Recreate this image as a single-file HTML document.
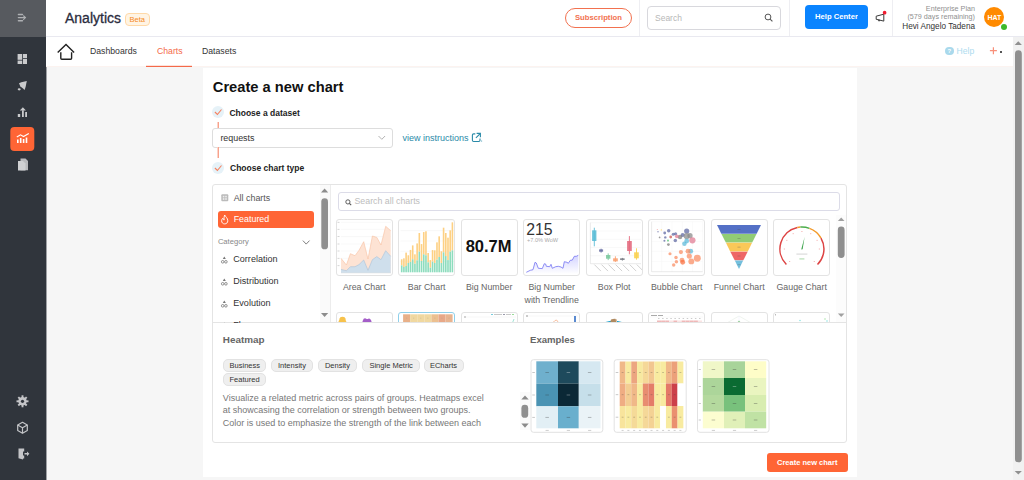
<!DOCTYPE html>
<html><head><meta charset="utf-8">
<style>
*{box-sizing:border-box;margin:0;padding:0}
html,body{width:1024px;height:480px;overflow:hidden;background:#f6f6f6;font-family:"Liberation Sans",sans-serif;color:#333}
.a{position:absolute}
.t{position:absolute;white-space:nowrap;line-height:1}
svg{position:absolute;overflow:visible}
#side{left:0;top:0;width:46px;height:480px;background:#30353c}
#sidetop{left:0;top:0;width:46px;height:37px;background:#575a5f}
#hdr{left:46px;top:0;width:978px;height:37px;background:#fff;border-bottom:1px solid #e9e9f0}
#nav{left:46px;top:37px;width:967px;height:30px;background:#fff}
#card{left:203px;top:68px;width:654px;height:409px;background:#fff}
#sb{left:1013px;top:37px;width:11px;height:443px;background:#f1f1f1}
.cc{position:absolute;top:219px;width:57px;height:57px;border:1px solid #e3e3e3;border-radius:3px;background:#fff;overflow:hidden}
.cc2{position:absolute;top:312px;width:57px;height:57px;border:1px solid #e3e3e3;border-radius:3px;background:#fff;overflow:hidden}
.cl{position:absolute;top:282px;width:62px;text-align:center;font-size:8.8px;color:#666;line-height:12.5px}
.cat{position:absolute;left:233.3px;font-size:9.05px;color:#333;line-height:1;white-space:nowrap}
.tag{position:absolute;height:13px;border:1px solid #e2e2e2;background:#efefef;border-radius:5px;font-size:7.5px;color:#333;line-height:11px;text-align:center;white-space:nowrap}
.ex{position:absolute;top:359px;width:73px;height:74px;border:1px solid #e4e4e4;border-radius:3px;background:#fff;overflow:hidden}
</style></head><body>
<div class="a" id="side"></div>
<div class="a" id="sidetop"></div>
<div class="a" style="left:46px;top:0;width:1px;height:37px;background:#b3b5b8"></div>
<div class="a" style="left:46px;top:37px;width:1px;height:443px;background:#9fa1a5"></div>
<div class="a" id="hdr"></div>
<div class="a" id="nav"></div>
<div class="a" id="card"></div>
<div class="a" id="sb"></div>

<!-- SIDEBAR ICONS -->
<svg style="left:0;top:0" width="46" height="480">
 <g stroke="#aeb0b3" stroke-width="1.4" stroke-linecap="round" fill="none">
  <line x1="18.4" y1="14.5" x2="22.5" y2="14.5"/><line x1="18.4" y1="17.6" x2="25" y2="17.6"/><line x1="18.4" y1="20.7" x2="22.5" y2="20.7"/>
  <polyline points="23.6,15.8 25.4,17.6 23.6,19.4" stroke-width="1.2"/>
 </g>
 <g fill="#c9cacc">
  <rect x="17.6" y="54" width="4.6" height="5.8"/><rect x="23" y="54" width="4" height="4.2"/>
  <rect x="17.6" y="60.6" width="4.6" height="3.4"/><rect x="23" y="59" width="4" height="5"/>
  <path d="M19 83.3 L21.3 82.2 L26.8 81 L25.7 86.5 L24.6 89.9 L23 88.6 L20.4 86.4 Z"/><ellipse cx="19.2" cy="89.3" rx="1.5" ry="1.1"/>
  <rect x="17.8" y="114" width="2.4" height="3"/><rect x="22" y="110.3" width="1.8" height="6.7"/><rect x="25.2" y="112" width="1.8" height="5"/>
  <path d="M22.9 107.3 L19.8 110.6 L25.9 110.6 Z"/>
  <path d="M20.5 158.6 h5 l2.5 2.5 v9.2 h-7.5 Z" fill="#b9babd"/><path d="M18 161 h5 l2.5 2.5 v7 h-7.5 Z" fill="#d0d1d3"/>
 </g>
 <rect x="10.3" y="127" width="24" height="24" rx="4" fill="#ff6535"/>
 <g fill="#fff">
  <rect x="17" y="139.5" width="1.6" height="3.5"/><rect x="19.9" y="138" width="1.6" height="5"/><rect x="22.8" y="139" width="1.6" height="4"/><rect x="25.7" y="137.5" width="1.6" height="5.5"/>
 </g>
 <polyline points="16.8,137 20.5,134.8 23.5,136.5 28.8,133.6" stroke="#fff" stroke-width="1.1" fill="none"/>
 <!-- bottom icons -->
 <g fill="#c4c5c8" stroke="none">
  <circle cx="22.5" cy="401.3" r="4.2"/>
 </g>
 <g stroke="#c4c5c8" stroke-width="1.9" stroke-linecap="butt">
  <line x1="22.5" y1="395.3" x2="22.5" y2="407.3"/><line x1="16.5" y1="401.3" x2="28.5" y2="401.3"/>
  <line x1="18.3" y1="397.1" x2="26.7" y2="405.5"/><line x1="26.7" y1="397.1" x2="18.3" y2="405.5"/>
 </g>
 <circle cx="22.5" cy="401.3" r="1.6" fill="#30353c"/>
 <g stroke="#c4c5c8" stroke-width="1.2" fill="none" stroke-linejoin="round">
  <path d="M22.5 422.3 L27.3 425 L27.3 430.5 L22.5 433.2 L17.7 430.5 L17.7 425 Z"/>
  <path d="M17.7 425 L22.5 427.7 L27.3 425 M22.5 427.7 L22.5 433.2"/>
 </g>
 <g fill="#c4c5c8">
  <path d="M18.5 448.5 h4.5 v11 l-4.5 -1.2 Z"/><rect x="23" y="448.5" width="1.2" height="3"/><rect x="23" y="455.5" width="1.2" height="3"/>
  <path d="M24.5 453 h2.5 v-1.6 l2.4 2.4 -2.4 2.4 v-1.6 h-2.5 Z"/>
 </g>
</svg>

<!-- HEADER -->
<div class="t" style="left:65px;top:10.5px;font-size:14px;color:#2a2c3e;-webkit-text-stroke:0.3px #2a2c3e">Analytics</div>
<div class="a" style="left:125px;top:13px;width:25px;height:13px;border:1px solid #ffd9a8;background:#fff4e4;border-radius:4px"></div>
<div class="t" style="left:129.5px;top:16px;font-size:7.5px;color:#f58a1f">Beta</div>

<div class="a" style="left:565px;top:8px;width:67px;height:20px;border:1px solid #f2714f;border-radius:10px"></div>
<div class="t" style="left:575px;top:14px;font-size:7.9px;font-weight:bold;color:#f2714f;transform:scaleX(0.973);transform-origin:0 0">Subscription</div>
<div class="a" style="left:639px;top:0;width:1px;height:36px;background:#eeeef2"></div>
<div class="a" style="left:647px;top:6px;width:134px;height:24px;border:1px solid #d8d8dd;border-radius:4px"></div>
<div class="t" style="left:655px;top:13.5px;font-size:8.5px;color:#b8b8b8">Search</div>
<svg style="left:764px;top:13px" width="10" height="10"><circle cx="4" cy="4" r="2.9" stroke="#555" stroke-width="1" fill="none"/><line x1="6.1" y1="6.1" x2="8.4" y2="8.4" stroke="#555" stroke-width="1.1"/></svg>
<div class="a" style="left:789px;top:0;width:1px;height:36px;background:#eeeef2"></div>
<div class="a" style="left:805px;top:5px;width:63px;height:24px;background:#0a84ff;border-radius:4px"></div>
<div class="t" style="left:814.6px;top:13.1px;font-size:8px;font-weight:bold;color:#fff;transform:scaleX(0.955);transform-origin:0 0">Help Center</div>
<svg style="left:875px;top:11px" width="12" height="12">
 <path d="M1.2 5.2 L8.8 3.2 V10.1 L1.2 8.3 Z" stroke="#3a3a3a" stroke-width="1" fill="none" stroke-linejoin="round"/>
 <path d="M3.6 8.6 L4.4 10.2" stroke="#333" stroke-width="1.3"/>
 <circle cx="9.6" cy="1.7" r="1.85" fill="#f01c30"/>
</svg>
<div class="a" style="left:892px;top:0;width:1px;height:36px;background:#eeeef2"></div>
<div class="t" style="right:49px;top:4.6px;font-size:7.2px;color:#8f8f8f">Enterprise Plan</div>
<div class="t" style="right:49px;top:13.4px;font-size:7.2px;color:#8f8f8f">(579 days remaining)</div>
<div class="t" style="right:49px;top:23.2px;font-size:8.2px;color:#333">Hevi Angelo Tadena</div>
<div class="a" style="left:983.6px;top:6.9px;width:20.2px;height:20.2px;border-radius:50%;background:#ff8a00"></div>
<div class="t" style="left:987.4px;top:13.6px;font-size:7px;font-weight:bold;color:#fff">HAT</div>
<div class="a" style="left:1000.8px;top:23.8px;width:6px;height:6px;border-radius:50%;background:#3db82a"></div>

<!-- NAV -->
<svg style="left:56px;top:42px" width="20" height="20">
 <path d="M2.2 10 L10 2.4 L17.6 10" stroke="#222" stroke-width="1.4" fill="none" stroke-linecap="square"/>
 <path d="M4.8 10.2 V16.2 a1 1 0 0 0 1 1 H14.6 a1 1 0 0 0 1 -1 V10.2" stroke="#222" stroke-width="1.4" fill="none"/>
</svg>
<div class="t" style="left:90px;top:47px;font-size:8.7px;color:#333">Dashboards</div>
<div class="t" style="left:157px;top:47px;font-size:8.7px;color:#f4694a">Charts</div>
<div class="a" style="left:46px;top:66px;width:967px;height:1px;background:#fcf3f0"></div>
<div class="a" style="left:146px;top:65px;width:46px;height:1px;background:#fde2da"></div>
<div class="a" style="left:146px;top:66px;width:46px;height:1px;background:#f4694a"></div>
<div class="t" style="left:202px;top:47px;font-size:8.7px;color:#333">Datasets</div>
<div class="a" style="left:945px;top:46.5px;width:8.5px;height:8.5px;border-radius:50%;background:#a9d9ec"></div>
<div class="t" style="left:947.6px;top:47.8px;font-size:6px;font-weight:bold;color:#fff">?</div>
<div class="t" style="left:956.6px;top:46.8px;font-size:8.6px;color:#aedcef">Help</div>
<svg style="left:989px;top:46px" width="10" height="10"><path d="M0.9 4.7 H7.9 M4.4 1.2 V8.2" stroke="#f8907a" stroke-width="1.2"/></svg>
<div class="a" style="left:1000.3px;top:51.3px;width:1.6px;height:1.6px;background:#555"></div>

<!-- SCROLLBAR -->
<svg style="left:1013px;top:37px" width="11" height="443">
 <path d="M5.3 4.2 L8.9 7.9 L1.7 7.9 Z" fill="#909090"/>
 <rect x="2" y="13.3" width="6.8" height="412" rx="3.4" fill="#8f8f8f"/>
 <path d="M5.3 437.6 L8.9 433.9 L1.7 433.9 Z" fill="#909090"/>
</svg>

<!-- CARD CONTENT -->
<div class="t" style="left:212.8px;top:80px;font-size:14.7px;font-weight:bold;color:#111">Create a new chart</div>
<div class="a" style="left:212.1px;top:106.2px;width:12px;height:12px;border-radius:50%;background:#e6f2f8"></div>
<svg style="left:212.1px;top:106.2px" width="12" height="12"><polyline points="2.9,6 5.4,8.5 9.5,3.5" stroke="#f6805f" stroke-width="1.1" fill="none"/></svg>
<div class="t" style="left:229.4px;top:109px;font-size:8.5px;font-weight:bold;color:#222">Choose a dataset</div>
<div class="a" style="left:217px;top:122px;width:1px;height:7px;background:#fcd3c8"></div><div class="a" style="left:218px;top:122px;width:1px;height:7px;background:#f8a28c"></div>
<div class="a" style="left:212px;top:128px;width:180.5px;height:20px;border:1px solid #dddddd;border-radius:3px"></div>
<div class="t" style="left:220.4px;top:133.5px;font-size:8.9px;color:#333">requests</div>
<svg style="left:378px;top:135px" width="8" height="6"><polyline points="0.5,1 3.8,4.3 7.1,1" stroke="#aaa" stroke-width="0.9" fill="none"/></svg>
<div class="t" style="left:402.4px;top:134px;font-size:9px;color:#2a8aa8">view instructions</div>
<svg style="left:471px;top:132px" width="12" height="12">
 <path d="M4.3 1.9 H2.6 a1.2 1.2 0 0 0 -1.2 1.2 V8.3 a1.2 1.2 0 0 0 1.2 1.2 H7.8 a1.2 1.2 0 0 0 1.2 -1.2 V6.6" stroke="#2a8aa8" stroke-width="1.1" fill="none"/>
 <path d="M5.6 1.4 H9.4 V5.2 M9.4 1.4 L4.9 5.9" stroke="#2a8aa8" stroke-width="1.1" fill="none"/>
 <rect x="10.2" y="8.6" width="0.9" height="0.9" fill="#2a8aa8"/>
</svg>
<div class="a" style="left:217px;top:147px;width:1px;height:11.4px;background:#fcd3c8"></div><div class="a" style="left:218px;top:147px;width:1px;height:11.4px;background:#f8a28c"></div>
<div class="a" style="left:212.1px;top:161.8px;width:12px;height:12px;border-radius:50%;background:#e6f2f8"></div>
<svg style="left:212.1px;top:161.8px" width="12" height="12"><polyline points="2.9,6 5.4,8.5 9.5,3.5" stroke="#f6805f" stroke-width="1.1" fill="none"/></svg>
<div class="t" style="left:230px;top:164px;font-size:8.5px;font-weight:bold;color:#222">Choose chart type</div>

<!-- CHART PANEL -->
<div class="a" style="left:212px;top:184px;width:635px;height:259px;border:1px solid #e4e4e4;border-radius:3px"></div>
<div class="a" style="left:213px;top:322px;width:633px;height:1px;background:#e4e4e4"></div>
<div class="a" style="left:330px;top:185px;width:1px;height:137px;background:#ececec"></div>

<!--PANEL_CONTENT-->
<div class="a" style="left:320px;top:185px;width:10px;height:137px;background:#fafafa"></div>
<svg style="left:320px;top:185px" width="10" height="137"><path d="M4.6 3.4 L8.2 7.4 L1.0 7.4 Z" fill="#8c8c8c"/><rect x="1.3" y="13.3" width="6.7" height="51" rx="3.35" fill="#8f8f8f"/><path d="M4.6 132 L8.2 128 L1.0 128 Z" fill="#8c8c8c"/></svg>
<svg style="left:220.5px;top:193.5px" width="8" height="8"><rect x="0.3" y="0.3" width="7" height="7" rx="1" fill="#bbb"/><rect x="1.8" y="1.8" width="1.6" height="1.6" fill="#eee"/><rect x="4.2" y="1.8" width="1.6" height="1.6" fill="#eee"/><rect x="1.8" y="4.2" width="1.6" height="1.6" fill="#eee"/><rect x="4.2" y="4.2" width="1.6" height="1.6" fill="#eee"/></svg>
<div class="t" style="left:233.7px;top:193.5px;font-size:8.9px;color:#555">All charts</div>
<div class="a" style="left:217.7px;top:211px;width:96.3px;height:16.5px;background:#ff6535;border-radius:3px"></div>
<svg style="left:220px;top:213.5px" width="10" height="11"><path d="M4.7 1 C5.5 3 7.8 4 7.8 6.8 C7.8 8.7 6.4 9.9 4.7 9.9 C3 9.9 1.6 8.7 1.6 6.8 C1.6 5.6 2.2 4.8 2.9 4.2 C3 5.4 3.6 6 4.2 6 C3.8 4.2 4.2 2.2 4.7 1 Z" stroke="#fff" stroke-width="0.9" fill="none" stroke-linejoin="round"/></svg>
<div class="t" style="left:233.7px;top:215px;font-size:8.9px;color:#fff">Featured</div>
<div class="t" style="left:217.9px;top:237.6px;font-size:7.6px;color:#888">Category</div>
<svg style="left:301.5px;top:239.5px" width="9" height="6"><polyline points="0.9,0.6 4.2,4.1 7.5,0.6" stroke="#777" stroke-width="0.95" fill="none"/></svg>
<svg style="left:220.6px;top:255.60000000000002px" width="7" height="8"><path d="M3.3 0.5 L4.8 3 L1.8 3 Z" fill="#777"/><circle cx="1.7" cy="5.8" r="1.3" stroke="#777" stroke-width="0.8" fill="none"/><circle cx="4.9" cy="5.8" r="1.3" stroke="#777" stroke-width="0.8" fill="none"/></svg>
<div class="cat" style="top:255.0px">Correlation</div>
<svg style="left:220.6px;top:278.0px" width="7" height="8"><path d="M3.3 0.5 L4.8 3 L1.8 3 Z" fill="#777"/><circle cx="1.7" cy="5.8" r="1.3" stroke="#777" stroke-width="0.8" fill="none"/><circle cx="4.9" cy="5.8" r="1.3" stroke="#777" stroke-width="0.8" fill="none"/></svg>
<div class="cat" style="top:277.4px">Distribution</div>
<svg style="left:220.6px;top:300.0px" width="7" height="8"><path d="M3.3 0.5 L4.8 3 L1.8 3 Z" fill="#777"/><circle cx="1.7" cy="5.8" r="1.3" stroke="#777" stroke-width="0.8" fill="none"/><circle cx="4.9" cy="5.8" r="1.3" stroke="#777" stroke-width="0.8" fill="none"/></svg>
<div class="cat" style="top:299.4px">Evolution</div>
<svg style="left:220.6px;top:322.0px" width="7" height="8"><path d="M3.3 0.5 L4.8 3 L1.8 3 Z" fill="#777"/><circle cx="1.7" cy="5.8" r="1.3" stroke="#777" stroke-width="0.8" fill="none"/><circle cx="4.9" cy="5.8" r="1.3" stroke="#777" stroke-width="0.8" fill="none"/></svg>
<div class="cat" style="top:321.4px">Flow</div>
<div class="a" style="left:213px;top:322.5px;width:117px;height:8px;background:#fff"></div>
<div class="a" style="left:338px;top:191.6px;width:502px;height:19px;border:1px solid #dcdce8;border-radius:3px"></div>
<svg style="left:344.5px;top:198.5px" width="8" height="8"><circle cx="2.9" cy="2.9" r="2.1" stroke="#555" stroke-width="0.95" fill="none"/><line x1="4.4" y1="4.4" x2="6.2" y2="6.2" stroke="#555" stroke-width="1.1"/></svg>
<div class="t" style="left:354.5px;top:196.5px;font-size:8.8px;color:#bdbdbd">Search all charts</div>
<div class="a" style="left:836px;top:215px;width:10px;height:107px;background:#fcfcfc"></div>
<svg style="left:836px;top:215px" width="10" height="107"><path d="M5.2 2.5 L8.5 6 L1.9 6 Z" fill="#a0a0a0"/><rect x="1.8" y="11.5" width="6.8" height="31.5" rx="3.4" fill="#8f8f8f"/><path d="M5.2 102 L8.5 98.5 L1.9 98.5 Z" fill="#a0a0a0"/></svg>
<div class="cc" style="left:335.7px"><svg width="57" height="57" style="left:-1px;top:-1px"><line x1="5" x2="55" y1="3.3" y2="3.3" stroke="#f0f0f0" stroke-width="0.5"/><rect x="1.5" y="2.9" width="2" height="0.8" fill="#ccc"/><line x1="5" x2="55" y1="10.3" y2="10.3" stroke="#f0f0f0" stroke-width="0.5"/><rect x="1.5" y="9.9" width="2" height="0.8" fill="#ccc"/><line x1="5" x2="55" y1="17.6" y2="17.6" stroke="#f0f0f0" stroke-width="0.5"/><rect x="1.5" y="17.200000000000003" width="2" height="0.8" fill="#ccc"/><line x1="5" x2="55" y1="25" y2="25" stroke="#f0f0f0" stroke-width="0.5"/><rect x="1.5" y="24.6" width="2" height="0.8" fill="#ccc"/><line x1="5" x2="55" y1="32" y2="32" stroke="#f0f0f0" stroke-width="0.5"/><rect x="1.5" y="31.6" width="2" height="0.8" fill="#ccc"/><line x1="5" x2="55" y1="39.3" y2="39.3" stroke="#f0f0f0" stroke-width="0.5"/><rect x="1.5" y="38.9" width="2" height="0.8" fill="#ccc"/><line x1="5" x2="55" y1="46.7" y2="46.7" stroke="#f0f0f0" stroke-width="0.5"/><rect x="1.5" y="46.300000000000004" width="2" height="0.8" fill="#ccc"/><polygon points="5,54 5,39.3 10.4,46 14.4,34.7 19,36.7 23,31.3 27.7,22.7 32,40 36.4,17 40.8,18.4 45,26 49.7,7.3 54.7,11.7 54.7,54" fill="#fde3d4"/><polyline points="5,39.3 10.4,46 14.4,34.7 19,36.7 23,31.3 27.7,22.7 32,40 36.4,17 40.8,18.4 45,26 49.7,7.3 54.7,11.7" stroke="#f9c0a0" stroke-width="0.6" fill="none"/><polygon points="5,54 5,50.4 10.4,51.7 14.4,47.7 19,47.7 23,45.6 27.7,41 32,51.3 36.4,40.7 40.8,37.6 45,40.7 49.7,31.7 54.7,37.3 54.7,54" fill="#cfdfec"/><polyline points="5,50.4 10.4,51.7 14.4,47.7 19,47.7 23,45.6 27.7,41 32,51.3 36.4,40.7 40.8,37.6 45,40.7 49.7,31.7 54.7,37.3" stroke="#a9c3da" stroke-width="0.6" fill="none"/><line x1="5" x2="55" y1="54" y2="54" stroke="#ddd" stroke-width="0.5"/></svg></div>
<div class="cl" style="left:333.2px;top:281px;line-height:12.7px">Area Chart</div>
<div class="cc" style="left:398.2px"><svg width="57" height="57" style="left:-1px;top:-1px"><line x1="2.5" x2="56" y1="1.6" y2="1.6" stroke="#f0f0f0" stroke-width="0.5"/><line x1="2.5" x2="56" y1="11.6" y2="11.6" stroke="#f0f0f0" stroke-width="0.5"/><line x1="2.5" x2="56" y1="22.0" y2="22.0" stroke="#f0f0f0" stroke-width="0.5"/><line x1="2.5" x2="56" y1="32.266666666666666" y2="32.266666666666666" stroke="#f0f0f0" stroke-width="0.5"/><line x1="2.5" x2="56" y1="42.4" y2="42.4" stroke="#f0f0f0" stroke-width="0.5"/><rect x="2.90" y="40.27" width="1.60" height="6.13" fill="#fdd083"/><rect x="2.90" y="46.40" width="1.60" height="6.90" fill="#8ddcbd"/><rect x="5.10" y="39.33" width="1.60" height="8.67" fill="#fdd083"/><rect x="5.10" y="48.00" width="1.60" height="5.30" fill="#8ddcbd"/><rect x="7.31" y="33.60" width="1.60" height="13.33" fill="#fdd083"/><rect x="7.31" y="46.93" width="1.60" height="6.37" fill="#8ddcbd"/><rect x="9.51" y="36.27" width="1.60" height="7.73" fill="#fdd083"/><rect x="9.51" y="44.00" width="1.60" height="9.30" fill="#8ddcbd"/><rect x="11.72" y="30.93" width="1.60" height="12.00" fill="#fdd083"/><rect x="11.72" y="42.93" width="1.60" height="10.37" fill="#8ddcbd"/><rect x="13.92" y="26.40" width="1.60" height="13.87" fill="#fdd083"/><rect x="13.92" y="40.27" width="1.60" height="13.03" fill="#8ddcbd"/><rect x="16.12" y="35.33" width="1.60" height="9.33" fill="#fdd083"/><rect x="16.12" y="44.67" width="1.60" height="8.63" fill="#8ddcbd"/><rect x="18.33" y="24.40" width="1.60" height="16.93" fill="#fdd083"/><rect x="18.33" y="41.33" width="1.60" height="11.97" fill="#8ddcbd"/><rect x="20.53" y="14.00" width="1.60" height="18.67" fill="#fdd083"/><rect x="20.53" y="32.67" width="1.60" height="20.63" fill="#8ddcbd"/><rect x="22.74" y="25.07" width="1.60" height="16.93" fill="#fdd083"/><rect x="22.74" y="42.00" width="1.60" height="11.30" fill="#8ddcbd"/><rect x="24.94" y="13.07" width="1.60" height="22.27" fill="#fdd083"/><rect x="24.94" y="35.33" width="1.60" height="17.97" fill="#8ddcbd"/><rect x="27.15" y="12.27" width="1.60" height="24.00" fill="#fdd083"/><rect x="27.15" y="36.27" width="1.60" height="17.03" fill="#8ddcbd"/><rect x="29.35" y="34.00" width="1.60" height="9.33" fill="#fdd083"/><rect x="29.35" y="43.33" width="1.60" height="9.97" fill="#8ddcbd"/><rect x="31.55" y="41.07" width="1.60" height="7.60" fill="#fdd083"/><rect x="31.55" y="48.67" width="1.60" height="4.63" fill="#8ddcbd"/><rect x="33.76" y="31.07" width="1.60" height="11.60" fill="#fdd083"/><rect x="33.76" y="42.67" width="1.60" height="10.63" fill="#8ddcbd"/><rect x="35.96" y="31.33" width="1.60" height="12.67" fill="#fdd083"/><rect x="35.96" y="44.00" width="1.60" height="9.30" fill="#8ddcbd"/><rect x="38.17" y="23.33" width="1.60" height="17.33" fill="#fdd083"/><rect x="38.17" y="40.67" width="1.60" height="12.63" fill="#8ddcbd"/><rect x="40.37" y="17.33" width="1.60" height="20.67" fill="#fdd083"/><rect x="40.37" y="38.00" width="1.60" height="15.30" fill="#8ddcbd"/><rect x="42.58" y="32.27" width="1.60" height="11.73" fill="#fdd083"/><rect x="42.58" y="44.00" width="1.60" height="9.30" fill="#8ddcbd"/><rect x="44.78" y="8.67" width="1.60" height="24.67" fill="#fdd083"/><rect x="44.78" y="33.33" width="1.60" height="19.97" fill="#8ddcbd"/><rect x="46.98" y="14.00" width="1.60" height="23.07" fill="#fdd083"/><rect x="46.98" y="37.07" width="1.60" height="16.23" fill="#8ddcbd"/><rect x="49.19" y="18.67" width="1.60" height="22.40" fill="#fdd083"/><rect x="49.19" y="41.07" width="1.60" height="12.23" fill="#8ddcbd"/><rect x="51.39" y="11.33" width="1.60" height="21.33" fill="#fdd083"/><rect x="51.39" y="32.67" width="1.60" height="20.63" fill="#8ddcbd"/><rect x="53.60" y="3.33" width="1.60" height="28.00" fill="#fdd083"/><rect x="53.60" y="31.33" width="1.60" height="21.97" fill="#8ddcbd"/></svg></div>
<div class="cl" style="left:395.7px;top:281px;line-height:12.7px">Bar Chart</div>
<div class="cc" style="left:460.7px"><div class="t" style="left:4px;top:17.7px;font-size:16.5px;font-weight:bold;color:#111">80.7M</div></div>
<div class="cl" style="left:458.2px;top:281px;line-height:12.7px">Big Number</div>
<div class="cc" style="left:523.2px"><div class="t" style="left:2.1px;top:1.6px;font-size:15.8px;color:#333">215</div><div class="t" style="left:2.8px;top:18.2px;font-size:5.6px;color:#aaa">+7.0% WoW</div><svg width="57" height="57" style="left:-1px;top:-1px"><defs><linearGradient id="tg" x1="0" y1="0" x2="0" y2="1"><stop offset="0" stop-color="#c9c9ff"/><stop offset="1" stop-color="#fff"/></linearGradient></defs><polygon points="3.3,55 3.3,53.3 7.3,51.3 10.0,50.7 12.0,43.3 13.3,44.0 15.3,49.3 19.3,49.6 21.3,44.7 22.7,45.1 23.3,47.3 26.7,47.7 28.0,45.3 29.3,49.3 32.7,47.7 35.3,47.3 38.0,48.0 40.0,49.3 41.3,42.7 44.0,43.3 45.3,44.3 47.3,41.3 49.3,41.1 51.3,37.3 53.3,37.3 55.3,36.3 55.3,55" fill="url(#tg)" opacity="0.8"/><polyline points="3.3,53.3 7.3,51.3 10.0,50.7 12.0,43.3 13.3,44.0 15.3,49.3 19.3,49.6 21.3,44.7 22.7,45.1 23.3,47.3 26.7,47.7 28.0,45.3 29.3,49.3 32.7,47.7 35.3,47.3 38.0,48.0 40.0,49.3 41.3,42.7 44.0,43.3 45.3,44.3 47.3,41.3 49.3,41.1 51.3,37.3 53.3,37.3 55.3,36.3" stroke="#7373f2" stroke-width="0.8" fill="none"/></svg></div>
<div class="cl" style="left:520.7px;top:281px;line-height:12.7px">Big Number<br>with Trendline</div>
<div class="cc" style="left:585.7px"><svg width="57" height="57" style="left:-1px;top:-1px"><line x1="4.4" x2="55" y1="3.7" y2="3.7" stroke="#f0f0f0" stroke-width="0.5"/><line x1="4.4" x2="55" y1="12.0" y2="12.0" stroke="#f0f0f0" stroke-width="0.5"/><line x1="4.4" x2="55" y1="20.3" y2="20.3" stroke="#f0f0f0" stroke-width="0.5"/><line x1="4.4" x2="55" y1="28.4" y2="28.4" stroke="#f0f0f0" stroke-width="0.5"/><line x1="4.4" x2="55" y1="36.7" y2="36.7" stroke="#f0f0f0" stroke-width="0.5"/><line x1="4.4" x2="4.4" y1="3.7" y2="44.7" stroke="#ccc" stroke-width="0.4"/><line x1="4.4" x2="55" y1="44.7" y2="44.7" stroke="#ccc" stroke-width="0.4"/><line x1="8.3" x2="8.3" y1="8.7" y2="27.3" stroke="#5bbcd6" stroke-width="0.9"/><rect x="6.1" y="11.3" width="4.3" height="10.7" fill="#5bbcd6" opacity="0.9"/><line x1="15.1" x2="15.1" y1="29.7" y2="33.6" stroke="#6a70a3" stroke-width="0.9"/><rect x="13.1" y="30.4" width="4.0" height="2.3" fill="#6a70a3" opacity="0.9"/><line x1="22.2" x2="22.2" y1="34.4" y2="41.1" stroke="#7dcaa0" stroke-width="0.9"/><rect x="20.0" y="36.0" width="4.4" height="3.7" fill="#7dcaa0" opacity="0.9"/><line x1="29.4" x2="29.4" y1="37.3" y2="42.9" stroke="#f9a272" stroke-width="0.9"/><rect x="27.1" y="39.3" width="4.7" height="3.1" fill="#f9a272" opacity="0.9"/><line x1="36.4" x2="36.4" y1="38.9" y2="41.6" stroke="#7c8087" stroke-width="0.9"/><rect x="34.1" y="39.3" width="4.5" height="1.7" fill="#7c8087" opacity="0.9"/><line x1="43.4" x2="43.4" y1="17.1" y2="35.3" stroke="#e46b7f" stroke-width="0.9"/><rect x="41.1" y="22.0" width="4.7" height="10.0" fill="#e46b7f" opacity="0.9"/><line x1="50.5" x2="50.5" y1="29.3" y2="40.7" stroke="#f9d251" stroke-width="0.9"/><rect x="48.1" y="33.3" width="4.7" height="6.0" fill="#f9d251" opacity="0.9"/><line x1="8.4" y1="45.6" x2="14.9" y2="52.1" stroke="#aaa" stroke-width="0.55"/><line x1="15.5" y1="45.6" x2="22.0" y2="52.1" stroke="#aaa" stroke-width="0.55"/><line x1="22.5" y1="45.6" x2="29.0" y2="52.1" stroke="#aaa" stroke-width="0.55"/><line x1="29.6" y1="45.6" x2="36.1" y2="52.1" stroke="#aaa" stroke-width="0.55"/><line x1="36.7" y1="45.6" x2="43.2" y2="52.1" stroke="#aaa" stroke-width="0.55"/><line x1="43.7" y1="45.6" x2="50.2" y2="52.1" stroke="#aaa" stroke-width="0.55"/><line x1="50.8" y1="45.6" x2="57.3" y2="52.1" stroke="#aaa" stroke-width="0.55"/></svg></div>
<div class="cl" style="left:583.2px;top:281px;line-height:12.7px">Box Plot</div>
<div class="cc" style="left:648.2px"><svg width="57" height="57" style="left:-1px;top:-1px"><line x1="13.7" x2="13.7" y1="2.7" y2="52.7" stroke="#f4f4f4" stroke-width="0.5"/><line x1="24.0" x2="24.0" y1="2.7" y2="52.7" stroke="#f4f4f4" stroke-width="0.5"/><line x1="34.3" x2="34.3" y1="2.7" y2="52.7" stroke="#f4f4f4" stroke-width="0.5"/><line x1="44.4" x2="44.4" y1="2.7" y2="52.7" stroke="#f4f4f4" stroke-width="0.5"/><line x1="54.7" x2="54.7" y1="2.7" y2="52.7" stroke="#f4f4f4" stroke-width="0.5"/><line x1="3.6" x2="54.7" y1="2.7" y2="2.7" stroke="#f4f4f4" stroke-width="0.5"/><line x1="3.6" x2="54.7" y1="12.0" y2="12.0" stroke="#f4f4f4" stroke-width="0.5"/><line x1="3.6" x2="54.7" y1="22.4" y2="22.4" stroke="#f4f4f4" stroke-width="0.5"/><line x1="3.6" x2="54.7" y1="32.3" y2="32.3" stroke="#f4f4f4" stroke-width="0.5"/><line x1="3.6" x2="54.7" y1="42.4" y2="42.4" stroke="#f4f4f4" stroke-width="0.5"/><line x1="3.6" x2="3.6" y1="2.7" y2="52.7" stroke="#ccc" stroke-width="0.4"/><line x1="3.6" x2="54.7" y1="52.7" y2="52.7" stroke="#ccc" stroke-width="0.4"/><circle cx="20.7" cy="11.7" r="1.73" fill="#5a64a0" opacity="0.72"/><circle cx="16.7" cy="14.0" r="1.39" fill="#5a64a0" opacity="0.72"/><circle cx="25.3" cy="15.3" r="1.56" fill="#5a64a0" opacity="0.72"/><circle cx="27.6" cy="14.7" r="1.56" fill="#5a64a0" opacity="0.72"/><circle cx="34.7" cy="16.0" r="2.08" fill="#5a64a0" opacity="0.72"/><circle cx="38.7" cy="12.0" r="2.60" fill="#5a64a0" opacity="0.72"/><circle cx="27.3" cy="21.6" r="1.73" fill="#5a64a0" opacity="0.72"/><circle cx="17.3" cy="18.4" r="1.21" fill="#5a64a0" opacity="0.72"/><circle cx="16.4" cy="21.7" r="1.04" fill="#5a64a0" opacity="0.72"/><circle cx="10.0" cy="12.7" r="0.69" fill="#5a64a0" opacity="0.72"/><circle cx="32.0" cy="18.0" r="2.25" fill="#7a7a7a" opacity="0.72"/><circle cx="38.7" cy="17.1" r="3.12" fill="#888" opacity="0.72"/><circle cx="42.0" cy="16.7" r="2.60" fill="#888" opacity="0.72"/><circle cx="20.4" cy="25.6" r="1.39" fill="#777" opacity="0.72"/><circle cx="11.6" cy="18.4" r="0.87" fill="#777" opacity="0.72"/><circle cx="28.9" cy="17.3" r="1.91" fill="#e07890" opacity="0.72"/><circle cx="44.4" cy="21.3" r="3.12" fill="#e07890" opacity="0.72"/><circle cx="38.7" cy="22.0" r="2.43" fill="#5ab8d8" opacity="0.72"/><circle cx="36.4" cy="24.7" r="2.25" fill="#5ab8d8" opacity="0.72"/><circle cx="42.7" cy="32.3" r="2.43" fill="#5ab8d8" opacity="0.72"/><circle cx="22.0" cy="34.7" r="1.56" fill="#fa8a60" opacity="0.72"/><circle cx="32.9" cy="33.1" r="2.08" fill="#fa8a60" opacity="0.72"/><circle cx="40.0" cy="32.3" r="2.43" fill="#fa8a60" opacity="0.72"/><circle cx="41.3" cy="37.1" r="2.60" fill="#fa8a60" opacity="0.72"/><circle cx="28.0" cy="38.4" r="1.73" fill="#fa8a60" opacity="0.72"/><circle cx="28.4" cy="42.7" r="1.73" fill="#fa8a60" opacity="0.72"/><circle cx="34.0" cy="41.1" r="2.43" fill="#fa8a60" opacity="0.72"/><circle cx="34.7" cy="43.3" r="2.43" fill="#fa7040" opacity="0.72"/><circle cx="43.3" cy="42.4" r="2.95" fill="#fa8a60" opacity="0.72"/><circle cx="49.3" cy="39.3" r="3.47" fill="#fa8a60" opacity="0.72"/><circle cx="25.7" cy="46.0" r="1.73" fill="#fa8a60" opacity="0.72"/><circle cx="22.7" cy="18.0" r="1.39" fill="#c85048" opacity="0.72"/><circle cx="20.0" cy="21.6" r="1.04" fill="#50c070" opacity="0.72"/><circle cx="13.3" cy="10.9" r="0.69" fill="#fc4" opacity="0.72"/><circle cx="9.3" cy="10.4" r="0.52" fill="#e88" opacity="0.72"/></svg></div>
<div class="cl" style="left:645.7px;top:281px;line-height:12.7px">Bubble Chart</div>
<div class="cc" style="left:710.7px"><svg width="57" height="57" style="left:-1px;top:-1px"><polygon points="6.00,6.00 50.00,6.00 45.67,14.67 10.33,14.67" fill="#5470c6"/><polygon points="10.47,14.93 45.53,14.93 41.20,23.60 14.80,23.60" fill="#91cc75"/><polygon points="14.93,23.87 41.07,23.87 36.80,32.40 19.20,32.40" fill="#fac858"/><polygon points="19.33,32.67 36.67,32.67 32.33,41.33 23.67,41.33" fill="#ee6666"/><polygon points="23.80,41.60 32.20,41.60 28.00,50.00 28.00,50.00" fill="#73c0de"/><rect x="26.5" y="10.0" width="3" height="0.6" fill="#555" opacity="0.5"/><rect x="26.5" y="19.0" width="3" height="0.6" fill="#555" opacity="0.5"/><rect x="26.5" y="27.8" width="3" height="0.6" fill="#555" opacity="0.5"/><rect x="26.5" y="36.7" width="3" height="0.6" fill="#555" opacity="0.5"/><rect x="26.5" y="45.5" width="3" height="0.6" fill="#555" opacity="0.5"/></svg></div>
<div class="cl" style="left:708.2px;top:281px;line-height:12.7px">Funnel Chart</div>
<div class="cc" style="left:773.2px"><svg width="57" height="57" style="left:-1px;top:-1px"><path d="M13.38 45.56 A22 22 0 0 1 24.36 8.48" stroke="#dd4444" stroke-width="1.5" fill="none"/><path d="M24.36 8.48 A22 22 0 0 1 27.40 8.05" stroke="#f39a2a" stroke-width="1.5" fill="none"/><path d="M27.40 8.05 A22 22 0 0 1 36.46 9.33" stroke="#4cae4c" stroke-width="1.5" fill="none"/><path d="M36.46 9.33 A22 22 0 0 1 47.99 19.00" stroke="#f39a2a" stroke-width="1.5" fill="none"/><path d="M47.99 19.00 A22 22 0 0 1 44.49 45.56" stroke="#dd4444" stroke-width="1.5" fill="none"/><polygon points="28.23,30.50 31.60,18.00 29.63,30.30" fill="#3aa34a"/><rect x="23.4" y="34.7" width="11" height="0.7" fill="#aaa" opacity="0.7"/><rect x="26.4" y="39.6" width="5" height="0.7" fill="#4cae4c" opacity="0.7"/><rect x="16.0" y="42.1" width="1.2" height="0.6" fill="#e88"/><rect x="10.8" y="29.7" width="1.2" height="0.6" fill="#e88"/><rect x="13.2" y="20.9" width="1.2" height="0.6" fill="#e88"/><rect x="19.6" y="14.5" width="1.2" height="0.6" fill="#e88"/><rect x="28.3" y="12.2" width="1.2" height="0.6" fill="#e88"/><rect x="37.1" y="14.5" width="1.2" height="0.6" fill="#e88"/><rect x="43.5" y="20.9" width="1.2" height="0.6" fill="#e88"/><rect x="45.8" y="29.7" width="1.2" height="0.6" fill="#e88"/><rect x="40.7" y="42.1" width="1.2" height="0.6" fill="#e88"/></svg></div>
<div class="cl" style="left:770.7px;top:281px;line-height:12.7px">Gauge Chart</div>
<div class="a" style="left:331px;top:305px;width:505px;height:17px;overflow:hidden"><div style="position:absolute;left:-331px;top:-305px;width:1024px;height:480px"><div class="cc2" style="left:335.7px"><svg width="57" height="20" style="left:-1px;top:-1px"><circle cx="6.5" cy="8" r="3.2" fill="#f7c24c"/><circle cx="5" cy="10" r="2.5" fill="#f7c24c"/><circle cx="8" cy="10.5" r="2.5" fill="#f7c24c"/><ellipse cx="31" cy="9.5" rx="4.5" ry="2.5" fill="#a45ec8"/><circle cx="29" cy="8" r="1.8" fill="#a45ec8"/><circle cx="33" cy="8.3" r="1.7" fill="#a45ec8"/></svg></div><div class="cc2" style="left:398.2px;border-color:#8fd0ea"><svg width="57" height="20" style="left:-1px;top:-1px"><rect x="5.10" y="2.3" width="7.07" height="8" fill="#e8b088"/><rect x="8.10" y="5.8" width="1" height="0.6" fill="#999" opacity="0.6"/><rect x="12.17" y="2.3" width="7.07" height="8" fill="#f0d8a0"/><rect x="15.17" y="5.8" width="1" height="0.6" fill="#999" opacity="0.6"/><rect x="19.24" y="2.3" width="7.07" height="8" fill="#f0d8a0"/><rect x="22.24" y="5.8" width="1" height="0.6" fill="#999" opacity="0.6"/><rect x="26.31" y="2.3" width="7.07" height="8" fill="#f0d8a0"/><rect x="29.31" y="5.8" width="1" height="0.6" fill="#999" opacity="0.6"/><rect x="33.38" y="2.3" width="7.07" height="8" fill="#ecc090"/><rect x="36.38" y="5.8" width="1" height="0.6" fill="#999" opacity="0.6"/><rect x="40.45" y="2.3" width="7.07" height="8" fill="#e8a888"/><rect x="43.45" y="5.8" width="1" height="0.6" fill="#999" opacity="0.6"/><rect x="47.52" y="2.3" width="7.07" height="8" fill="#e8b490"/><rect x="50.52" y="5.8" width="1" height="0.6" fill="#999" opacity="0.6"/><rect x="12" y="10.3" width="42" height="8" fill="#f0d0a0"/><rect x="40" y="10.3" width="5" height="8" fill="#e89090"/></svg></div><div class="cc2" style="left:460.7px"><svg width="57" height="20" style="left:-1px;top:-1px"><line x1="3" x2="55" y1="5" y2="5" stroke="#eee" stroke-width="0.5"/><rect x="3" y="4.6" width="2" height="0.8" fill="#999"/><rect x="30" y="2" width="2" height="1" fill="#7cd"/><rect x="33" y="2" width="8" height="0.8" fill="#bbb"/><rect x="42" y="2" width="2" height="1" fill="#99a"/><rect x="45" y="2" width="5" height="0.8" fill="#bbb"/><rect x="51" y="2" width="2" height="1" fill="#9d9"/><path d="M51 12 L53 7" stroke="#8dc" stroke-width="0.8"/></svg></div><div class="cc2" style="left:523.2px"><svg width="57" height="20" style="left:-1px;top:-1px"><line x1="3" x2="55" y1="4" y2="4" stroke="#eee" stroke-width="0.5"/><rect x="3" y="3.5" width="2" height="1" fill="#999"/><path d="M28 12 Q31 10 32 8.5 Q34 7 35 10" stroke="#f5b08a" stroke-width="0.8" fill="none"/><rect x="51" y="4" width="2" height="8" fill="#5a8ad0"/></svg></div><div class="cc2" style="left:585.7px"><svg width="57" height="20" style="left:-1px;top:-1px"><path d="M15 12 Q28 5 40 12 Z" fill="#1ea2cc"/><path d="M25 7.5 Q30 6 31 8 L31 12 L24 12 Z" fill="#b08a60"/><path d="M30 7 L31 12" stroke="#fff" stroke-width="0.5"/></svg></div><div class="cc2" style="left:648.2px"><svg width="57" height="20" style="left:-1px;top:-1px"><rect x="3" y="3" width="6" height="1" fill="#aaa"/><rect x="10" y="3" width="5" height="1" fill="#aaa"/><rect x="10.0" y="6" width="1.5" height="0.6" fill="#aaa"/><rect x="9.0" y="8.5" width="4" height="2" fill="#f0b8b8"/><rect x="14.1" y="6" width="1.5" height="0.6" fill="#aaa"/><rect x="13.1" y="8.5" width="4" height="2" fill="#f0b8b8"/><rect x="18.2" y="6" width="1.5" height="0.6" fill="#aaa"/><rect x="17.2" y="8.5" width="4" height="2" fill="#f0b8b8"/><rect x="22.3" y="6" width="1.5" height="0.6" fill="#aaa"/><rect x="21.3" y="8.5" width="4" height="2" fill="#fbe4e4"/><rect x="26.4" y="6" width="1.5" height="0.6" fill="#aaa"/><rect x="25.4" y="8.5" width="4" height="2" fill="#f0b8b8"/><rect x="30.5" y="6" width="1.5" height="0.6" fill="#aaa"/><rect x="29.5" y="8.5" width="4" height="2" fill="#fbe4e4"/><rect x="34.6" y="6" width="1.5" height="0.6" fill="#aaa"/><rect x="33.6" y="8.5" width="4" height="2" fill="#f0b8b8"/><rect x="38.7" y="6" width="1.5" height="0.6" fill="#aaa"/><rect x="37.7" y="8.5" width="4" height="2" fill="#f0b8b8"/><rect x="42.8" y="6" width="1.5" height="0.6" fill="#aaa"/><rect x="41.8" y="8.5" width="4" height="2" fill="#f0b8b8"/><rect x="46.9" y="6" width="1.5" height="0.6" fill="#aaa"/><rect x="45.9" y="8.5" width="4" height="2" fill="#f0b8b8"/><rect x="51.0" y="6" width="1.5" height="0.6" fill="#aaa"/><rect x="50.0" y="8.5" width="4" height="2" fill="#fbe4e4"/><line x1="2" x2="55" y1="5" y2="5" stroke="#eee" stroke-width="0.4"/></svg></div><div class="cc2" style="left:710.7px"><svg width="57" height="20" style="left:-1px;top:-1px"><path d="M14 12 L28 4 L42 12" stroke="#e4ece4" stroke-width="0.6" fill="none"/><circle cx="28" cy="10" r="1.2" fill="#8c8"/><path d="M28 4 V12" stroke="#eef" stroke-width="0.5"/></svg></div><div class="cc2" style="left:773.2px"><svg width="57" height="20" style="left:-1px;top:-1px"><rect x="2" y="2" width="0.8" height="1.5" fill="#aaa"/><circle cx="27" cy="8.5" r="0.7" fill="#7dd"/><circle cx="52" cy="7" r="0.7" fill="#9d9"/><circle cx="54" cy="9" r="0.7" fill="#7dd"/></svg></div></div></div>
<div class="t" style="left:222.8px;top:335.3px;font-size:9.9px;font-weight:bold;color:#666">Heatmap</div>
<div class="tag" style="left:223.3px;top:359.4px;width:43.0px">Business</div>
<div class="tag" style="left:271.3px;top:359.4px;width:41.3px">Intensity</div>
<div class="tag" style="left:318.3px;top:359.4px;width:38.3px">Density</div>
<div class="tag" style="left:362.3px;top:359.4px;width:57.7px">Single Metric</div>
<div class="tag" style="left:423.5px;top:359.4px;width:40.0px">ECharts</div>
<div class="tag" style="left:223.3px;top:372.7px;width:42.5px">Featured</div>
<div class="t" style="left:222.8px;top:393.60px;font-size:9px;color:#777">Visualize a related metric across pairs of groups. Heatmaps excel</div>
<div class="t" style="left:222.8px;top:406.30px;font-size:9px;color:#777">at showcasing the correlation or strength between two groups.</div>
<div class="t" style="left:222.8px;top:419.30px;font-size:9px;color:#777">Color is used to emphasize the strength of the link between each</div>
<div class="a" style="left:519.5px;top:392px;width:10px;height:38px;background:#fafafa"></div>
<svg style="left:519.5px;top:392px" width="10" height="38"><path d="M5.0 3.4 L8.7 7.6 L1.3 7.6 Z" fill="#8a8a8a"/><rect x="1.4" y="12.8" width="6.8" height="13" rx="3.4" fill="#8f8f8f"/><path d="M5.0 35.7 L8.7 31.5 L1.3 31.5 Z" fill="#8a8a8a"/></svg>
<div class="t" style="left:530px;top:335.3px;font-size:9.6px;font-weight:bold;color:#666">Examples</div>
<svg style="left:0;top:0" width="1024" height="480"><rect x="531.00" y="359.7" width="71.80" height="72.6" rx="2.5" fill="#fff" stroke="#e2e2e2" stroke-width="1"/><rect x="614.20" y="359.7" width="72.00" height="72.6" rx="2.5" fill="#fff" stroke="#e2e2e2" stroke-width="1"/><rect x="697.50" y="359.7" width="71.50" height="72.6" rx="2.5" fill="#fff" stroke="#e2e2e2" stroke-width="1"/><rect x="536.30" y="361.30" width="21.70" height="22.40" fill="#6fb0cd"/><rect x="545.40" y="372.15" width="3.5" height="0.7" fill="#333" opacity="0.45"/><rect x="558.00" y="361.30" width="20.80" height="22.40" fill="#1e4a5c"/><rect x="566.65" y="372.15" width="3.5" height="0.7" fill="#fff" opacity="0.45"/><rect x="578.80" y="361.30" width="21.70" height="22.40" fill="#d6e8f1"/><rect x="587.90" y="372.15" width="3.5" height="0.7" fill="#333" opacity="0.45"/><rect x="532.30" y="372.15" width="2.6" height="0.7" fill="#666" opacity="0.5"/><rect x="536.30" y="383.70" width="21.70" height="22.60" fill="#4a93b3"/><rect x="545.40" y="394.65" width="3.5" height="0.7" fill="#333" opacity="0.45"/><rect x="558.00" y="383.70" width="20.80" height="22.60" fill="#0b2836"/><rect x="566.65" y="394.65" width="3.5" height="0.7" fill="#fff" opacity="0.45"/><rect x="578.80" y="383.70" width="21.70" height="22.60" fill="#c6dfea"/><rect x="587.90" y="394.65" width="3.5" height="0.7" fill="#333" opacity="0.45"/><rect x="532.30" y="394.65" width="2.6" height="0.7" fill="#666" opacity="0.5"/><rect x="536.30" y="406.30" width="21.70" height="22.00" fill="#e2eff5"/><rect x="545.40" y="416.95" width="3.5" height="0.7" fill="#333" opacity="0.45"/><rect x="558.00" y="406.30" width="20.80" height="22.00" fill="#69afcd"/><rect x="566.65" y="416.95" width="3.5" height="0.7" fill="#333" opacity="0.45"/><rect x="578.80" y="406.30" width="21.70" height="22.00" fill="#eaf3f7"/><rect x="587.90" y="416.95" width="3.5" height="0.7" fill="#333" opacity="0.45"/><rect x="532.30" y="416.95" width="2.6" height="0.7" fill="#666" opacity="0.5"/><rect x="545.55" y="429.95" width="3.2" height="0.7" fill="#666" opacity="0.45"/><rect x="566.80" y="429.95" width="3.2" height="0.7" fill="#666" opacity="0.45"/><rect x="588.05" y="429.95" width="3.2" height="0.7" fill="#666" opacity="0.45"/><rect x="619.70" y="361.50" width="5.83" height="22.00" fill="#f0b888"/><rect x="621.69" y="372.15" width="1.8" height="0.7" fill="#444" opacity="0.4"/><rect x="625.48" y="361.50" width="5.83" height="22.00" fill="#f8eaa0"/><rect x="627.47" y="372.15" width="1.8" height="0.7" fill="#444" opacity="0.4"/><rect x="631.26" y="361.50" width="5.83" height="22.00" fill="#eca580"/><rect x="633.25" y="372.15" width="1.8" height="0.7" fill="#444" opacity="0.4"/><rect x="637.05" y="361.50" width="5.83" height="22.00" fill="#f7e9a0"/><rect x="639.04" y="372.15" width="1.8" height="0.7" fill="#444" opacity="0.4"/><rect x="642.83" y="361.50" width="5.83" height="22.00" fill="#f5d898"/><rect x="644.82" y="372.15" width="1.8" height="0.7" fill="#444" opacity="0.4"/><rect x="648.61" y="361.50" width="5.83" height="22.00" fill="#f2c690"/><rect x="650.60" y="372.15" width="1.8" height="0.7" fill="#444" opacity="0.4"/><rect x="654.39" y="361.50" width="5.83" height="22.00" fill="#f8eba0"/><rect x="656.38" y="372.15" width="1.8" height="0.7" fill="#444" opacity="0.4"/><rect x="660.17" y="361.50" width="5.83" height="22.00" fill="#f8eba0"/><rect x="662.16" y="372.15" width="1.8" height="0.7" fill="#444" opacity="0.4"/><rect x="665.95" y="361.50" width="5.83" height="22.00" fill="#f0b888"/><rect x="667.95" y="372.15" width="1.8" height="0.7" fill="#444" opacity="0.4"/><rect x="671.74" y="361.50" width="5.83" height="22.00" fill="#eca07a"/><rect x="673.73" y="372.15" width="1.8" height="0.7" fill="#444" opacity="0.4"/><rect x="677.52" y="361.50" width="5.83" height="22.00" fill="#f8eba0"/><rect x="679.51" y="372.15" width="1.8" height="0.7" fill="#444" opacity="0.4"/><rect x="615.70" y="372.15" width="2.6" height="0.7" fill="#666" opacity="0.5"/><rect x="619.70" y="383.50" width="5.83" height="22.50" fill="#efad83"/><rect x="621.69" y="394.40" width="1.8" height="0.7" fill="#444" opacity="0.4"/><rect x="625.48" y="383.50" width="5.83" height="22.50" fill="#f3cd92"/><rect x="627.47" y="394.40" width="1.8" height="0.7" fill="#444" opacity="0.4"/><rect x="631.26" y="383.50" width="5.83" height="22.50" fill="#f0b888"/><rect x="633.25" y="394.40" width="1.8" height="0.7" fill="#444" opacity="0.4"/><rect x="637.05" y="383.50" width="5.83" height="22.50" fill="#f8eba0"/><rect x="639.04" y="394.40" width="1.8" height="0.7" fill="#444" opacity="0.4"/><rect x="642.83" y="383.50" width="5.83" height="22.50" fill="#e88d70"/><rect x="644.82" y="394.40" width="1.8" height="0.7" fill="#444" opacity="0.4"/><rect x="648.61" y="383.50" width="5.83" height="22.50" fill="#e47c68"/><rect x="650.60" y="394.40" width="1.8" height="0.7" fill="#444" opacity="0.4"/><rect x="654.39" y="383.50" width="5.83" height="22.50" fill="#f8eba0"/><rect x="656.38" y="394.40" width="1.8" height="0.7" fill="#444" opacity="0.4"/><rect x="660.17" y="383.50" width="5.83" height="22.50" fill="#f8eba0"/><rect x="662.16" y="394.40" width="1.8" height="0.7" fill="#444" opacity="0.4"/><rect x="665.95" y="383.50" width="5.83" height="22.50" fill="#e47868"/><rect x="667.95" y="394.40" width="1.8" height="0.7" fill="#444" opacity="0.4"/><rect x="671.74" y="383.50" width="5.83" height="22.50" fill="#cc3f4a"/><rect x="673.73" y="394.40" width="1.8" height="0.7" fill="#444" opacity="0.4"/><rect x="677.52" y="383.50" width="5.83" height="22.50" fill="#ffffff"/><rect x="615.70" y="394.40" width="2.6" height="0.7" fill="#666" opacity="0.5"/><rect x="619.70" y="406.00" width="5.83" height="22.30" fill="#f8e49c"/><rect x="621.69" y="416.80" width="1.8" height="0.7" fill="#444" opacity="0.4"/><rect x="625.48" y="406.00" width="5.83" height="22.30" fill="#f8eba0"/><rect x="627.47" y="416.80" width="1.8" height="0.7" fill="#444" opacity="0.4"/><rect x="631.26" y="406.00" width="5.83" height="22.30" fill="#f5da98"/><rect x="633.25" y="416.80" width="1.8" height="0.7" fill="#444" opacity="0.4"/><rect x="637.05" y="406.00" width="5.83" height="22.30" fill="#f8eba0"/><rect x="639.04" y="416.80" width="1.8" height="0.7" fill="#444" opacity="0.4"/><rect x="642.83" y="406.00" width="5.83" height="22.30" fill="#f5d898"/><rect x="644.82" y="416.80" width="1.8" height="0.7" fill="#444" opacity="0.4"/><rect x="648.61" y="406.00" width="5.83" height="22.30" fill="#f4d294"/><rect x="650.60" y="416.80" width="1.8" height="0.7" fill="#444" opacity="0.4"/><rect x="654.39" y="406.00" width="5.83" height="22.30" fill="#f8eba0"/><rect x="656.38" y="416.80" width="1.8" height="0.7" fill="#444" opacity="0.4"/><rect x="660.17" y="406.00" width="5.83" height="22.30" fill="#ffffff"/><rect x="665.95" y="406.00" width="5.83" height="22.30" fill="#f8eba0"/><rect x="667.95" y="416.80" width="1.8" height="0.7" fill="#444" opacity="0.4"/><rect x="671.74" y="406.00" width="5.83" height="22.30" fill="#ea9070"/><rect x="673.73" y="416.80" width="1.8" height="0.7" fill="#444" opacity="0.4"/><rect x="677.52" y="406.00" width="5.83" height="22.30" fill="#f8eba0"/><rect x="679.51" y="416.80" width="1.8" height="0.7" fill="#444" opacity="0.4"/><rect x="615.70" y="416.80" width="2.6" height="0.7" fill="#666" opacity="0.5"/><rect x="621.59" y="429.95" width="2" height="0.7" fill="#666" opacity="0.45"/><rect x="627.37" y="429.95" width="2" height="0.7" fill="#666" opacity="0.45"/><rect x="633.15" y="429.95" width="2" height="0.7" fill="#666" opacity="0.45"/><rect x="638.94" y="429.95" width="2" height="0.7" fill="#666" opacity="0.45"/><rect x="644.72" y="429.95" width="2" height="0.7" fill="#666" opacity="0.45"/><rect x="650.50" y="429.95" width="2" height="0.7" fill="#666" opacity="0.45"/><rect x="656.28" y="429.95" width="2" height="0.7" fill="#666" opacity="0.45"/><rect x="662.06" y="429.95" width="2" height="0.7" fill="#666" opacity="0.45"/><rect x="667.85" y="429.95" width="2" height="0.7" fill="#666" opacity="0.45"/><rect x="673.63" y="429.95" width="2" height="0.7" fill="#666" opacity="0.45"/><rect x="679.41" y="429.95" width="2" height="0.7" fill="#666" opacity="0.45"/><rect x="702.80" y="361.30" width="21.20" height="16.70" fill="#f0f7c8"/><rect x="711.65" y="369.30" width="3.5" height="0.7" fill="#333" opacity="0.45"/><rect x="724.00" y="361.30" width="21.00" height="16.70" fill="#a8d49a"/><rect x="732.75" y="369.30" width="3.5" height="0.7" fill="#333" opacity="0.45"/><rect x="745.00" y="361.30" width="21.20" height="16.70" fill="#fefdc8"/><rect x="753.85" y="369.30" width="3.5" height="0.7" fill="#333" opacity="0.45"/><rect x="698.70" y="369.30" width="2.2" height="0.7" fill="#666" opacity="0.5"/><rect x="702.80" y="378.00" width="21.20" height="17.00" fill="#acd59a"/><rect x="711.65" y="386.15" width="3.5" height="0.7" fill="#333" opacity="0.45"/><rect x="724.00" y="378.00" width="21.00" height="17.00" fill="#0a6b32"/><rect x="732.75" y="386.15" width="3.5" height="0.7" fill="#fff" opacity="0.45"/><rect x="745.00" y="378.00" width="21.20" height="17.00" fill="#eaf5c0"/><rect x="753.85" y="386.15" width="3.5" height="0.7" fill="#333" opacity="0.45"/><rect x="698.70" y="386.15" width="2.2" height="0.7" fill="#666" opacity="0.5"/><rect x="702.80" y="395.00" width="21.20" height="16.70" fill="#b4d99e"/><rect x="711.65" y="403.00" width="3.5" height="0.7" fill="#333" opacity="0.45"/><rect x="724.00" y="395.00" width="21.00" height="16.70" fill="#78c17c"/><rect x="732.75" y="403.00" width="3.5" height="0.7" fill="#333" opacity="0.45"/><rect x="745.00" y="395.00" width="21.20" height="16.70" fill="#d8edb0"/><rect x="753.85" y="403.00" width="3.5" height="0.7" fill="#333" opacity="0.45"/><rect x="698.70" y="403.00" width="2.2" height="0.7" fill="#666" opacity="0.5"/><rect x="702.80" y="411.70" width="21.20" height="16.60" fill="#fcfdd0"/><rect x="711.65" y="419.65" width="3.5" height="0.7" fill="#333" opacity="0.45"/><rect x="724.00" y="411.70" width="21.00" height="16.60" fill="#e0f0b8"/><rect x="732.75" y="419.65" width="3.5" height="0.7" fill="#333" opacity="0.45"/><rect x="745.00" y="411.70" width="21.20" height="16.60" fill="#c0e2a4"/><rect x="753.85" y="419.65" width="3.5" height="0.7" fill="#333" opacity="0.45"/><rect x="698.70" y="419.65" width="2.2" height="0.7" fill="#666" opacity="0.5"/><rect x="711.80" y="429.95" width="3.2" height="0.7" fill="#666" opacity="0.45"/><rect x="732.90" y="429.95" width="3.2" height="0.7" fill="#666" opacity="0.45"/><rect x="754.00" y="429.95" width="3.2" height="0.7" fill="#666" opacity="0.45"/></svg>
<!--/PANEL_CONTENT-->

<div class="a" style="left:767px;top:453px;width:81px;height:19px;background:#ff6535;border-radius:3px"></div>
<div class="t" style="left:777px;top:458.5px;font-size:7.5px;font-weight:bold;color:#fff">Create new chart</div>
</body></html>
